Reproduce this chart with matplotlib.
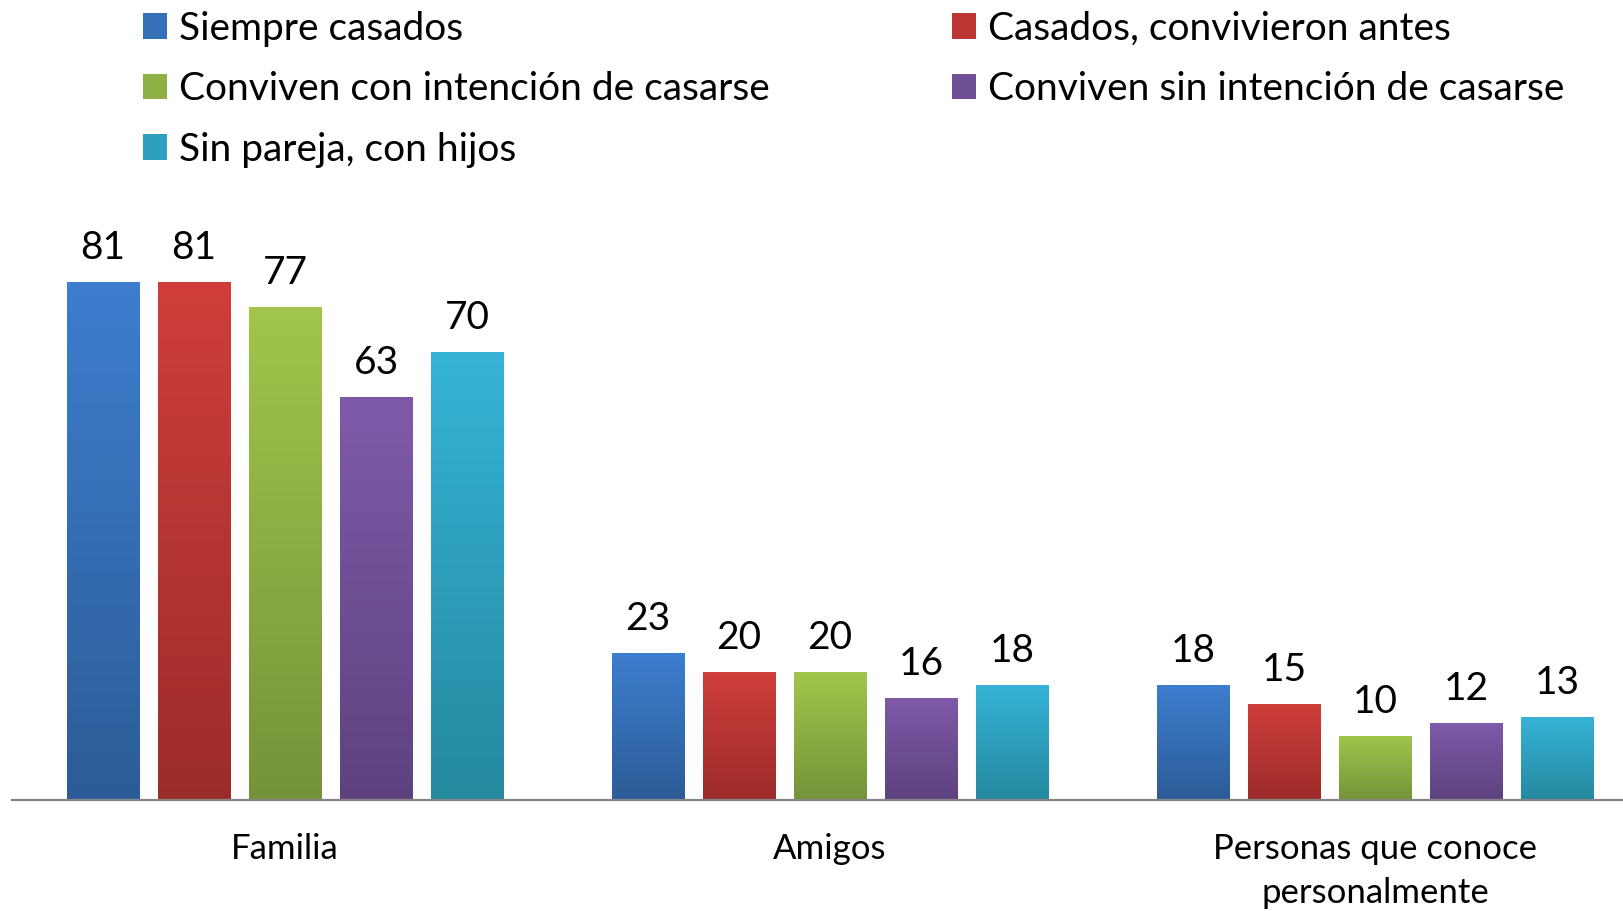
import numpy as np
import matplotlib
matplotlib.use("Agg")
import matplotlib.pyplot as plt
from matplotlib.colors import LinearSegmentedColormap
from matplotlib.patches import Patch

plt.rcParams["font.family"] = ["Lato", "DejaVu Sans"]

# -- Data -----------------------------------------------------------------------
categories = ["Familia", "Amigos", "Personas que conoce\npersonalmente"]
series = ["Siempre casados", "Casados, convivieron antes",
          "Conviven con intención de casarse", "Conviven sin intención de casarse",
          "Sin pareja, con hijos"]
siempre_casados = [81, 23, 18]
casados_convivieron = [81, 20, 15]
conviven_con = [77, 20, 10]
conviven_sin = [63, 16, 12]
sin_pareja = [70, 18, 13]
values = [siempre_casados, casados_convivieron, conviven_con, conviven_sin, sin_pareja]

# (top colour, bottom colour) for the vertical gradient of each series
GRAD = [("#3D7ECF", "#2C5C97"),
        ("#CF3E3B", "#9C2C2A"),
        ("#A1C64B", "#75933A"),
        ("#7F5AA9", "#5E427F"),
        ("#36B3D7", "#25899F")]
MID = ["#3570B8", "#BB3633", "#8DAF43", "#6F4F96", "#2EA0BF"]

W, H = 1623, 911
fig = plt.figure(figsize=(W / 100, H / 100), dpi=100)
ax = fig.add_axes([12.4 / W, 1 - 800 / H, 1 - 12.4 / W, (800 - 190) / H])

x = np.arange(len(categories))
bar_w = 0.133
pitch = 0.167

for i, (vals, (c_top, c_bot)) in enumerate(zip(values, GRAD)):
    offs = (i - 2) * pitch
    bars = ax.bar(x + offs, vals, width=bar_w, facecolor="none",
                  edgecolor="none", zorder=2, label=series[i])
    cmap = LinearSegmentedColormap.from_list(f"g{i}", [c_bot, c_top])
    grad = np.linspace(0, 1, 256).reshape(-1, 1)
    for b, v in zip(bars, vals):
        x0 = b.get_x()
        im = ax.imshow(grad, cmap=cmap, origin="lower", aspect="auto",
                       extent=(x0, x0 + b.get_width(), 0, v), zorder=2,
                       interpolation="bicubic")
        im.set_clip_path(b)
        ax.annotate(f"{v}", (b.get_x() + b.get_width() / 2, v),
                    xytext=(0, 24.5), textcoords="offset points",
                    ha="center", va="center", fontsize=28, color="black")

ax.set_xlim(-0.5, 2.455)
ax.set_ylim(0, 610 / 6.4)

for side in ["top", "right", "left"]:
    ax.spines[side].set_visible(False)
ax.spines["bottom"].set_color("#868686")
ax.spines["bottom"].set_linewidth(1.6)
ax.spines["bottom"].set_zorder(3)
ax.set_yticks([])
ax.set_xticks(x)
ax.set_xticklabels(categories, fontsize=25, linespacing=1.45)
ax.tick_params(axis="x", length=0, pad=24)

# legend: row-major order across two columns
handles = [Patch(facecolor=c, edgecolor="none") for c in MID]
order = [0, 2, 4, 1, 3]
fig.legend([handles[k] for k in order], [series[k] for k in order],
           ncol=2, loc="upper left", bbox_to_anchor=(135 / W, 1 - 3 / H),
           frameon=False, fontsize=28, handlelength=0.62, handleheight=0.62,
           handletextpad=0.3, columnspacing=4.7, labelspacing=0.63,
           borderaxespad=0, borderpad=0.2)

fig.savefig("out.png", dpi=100)
